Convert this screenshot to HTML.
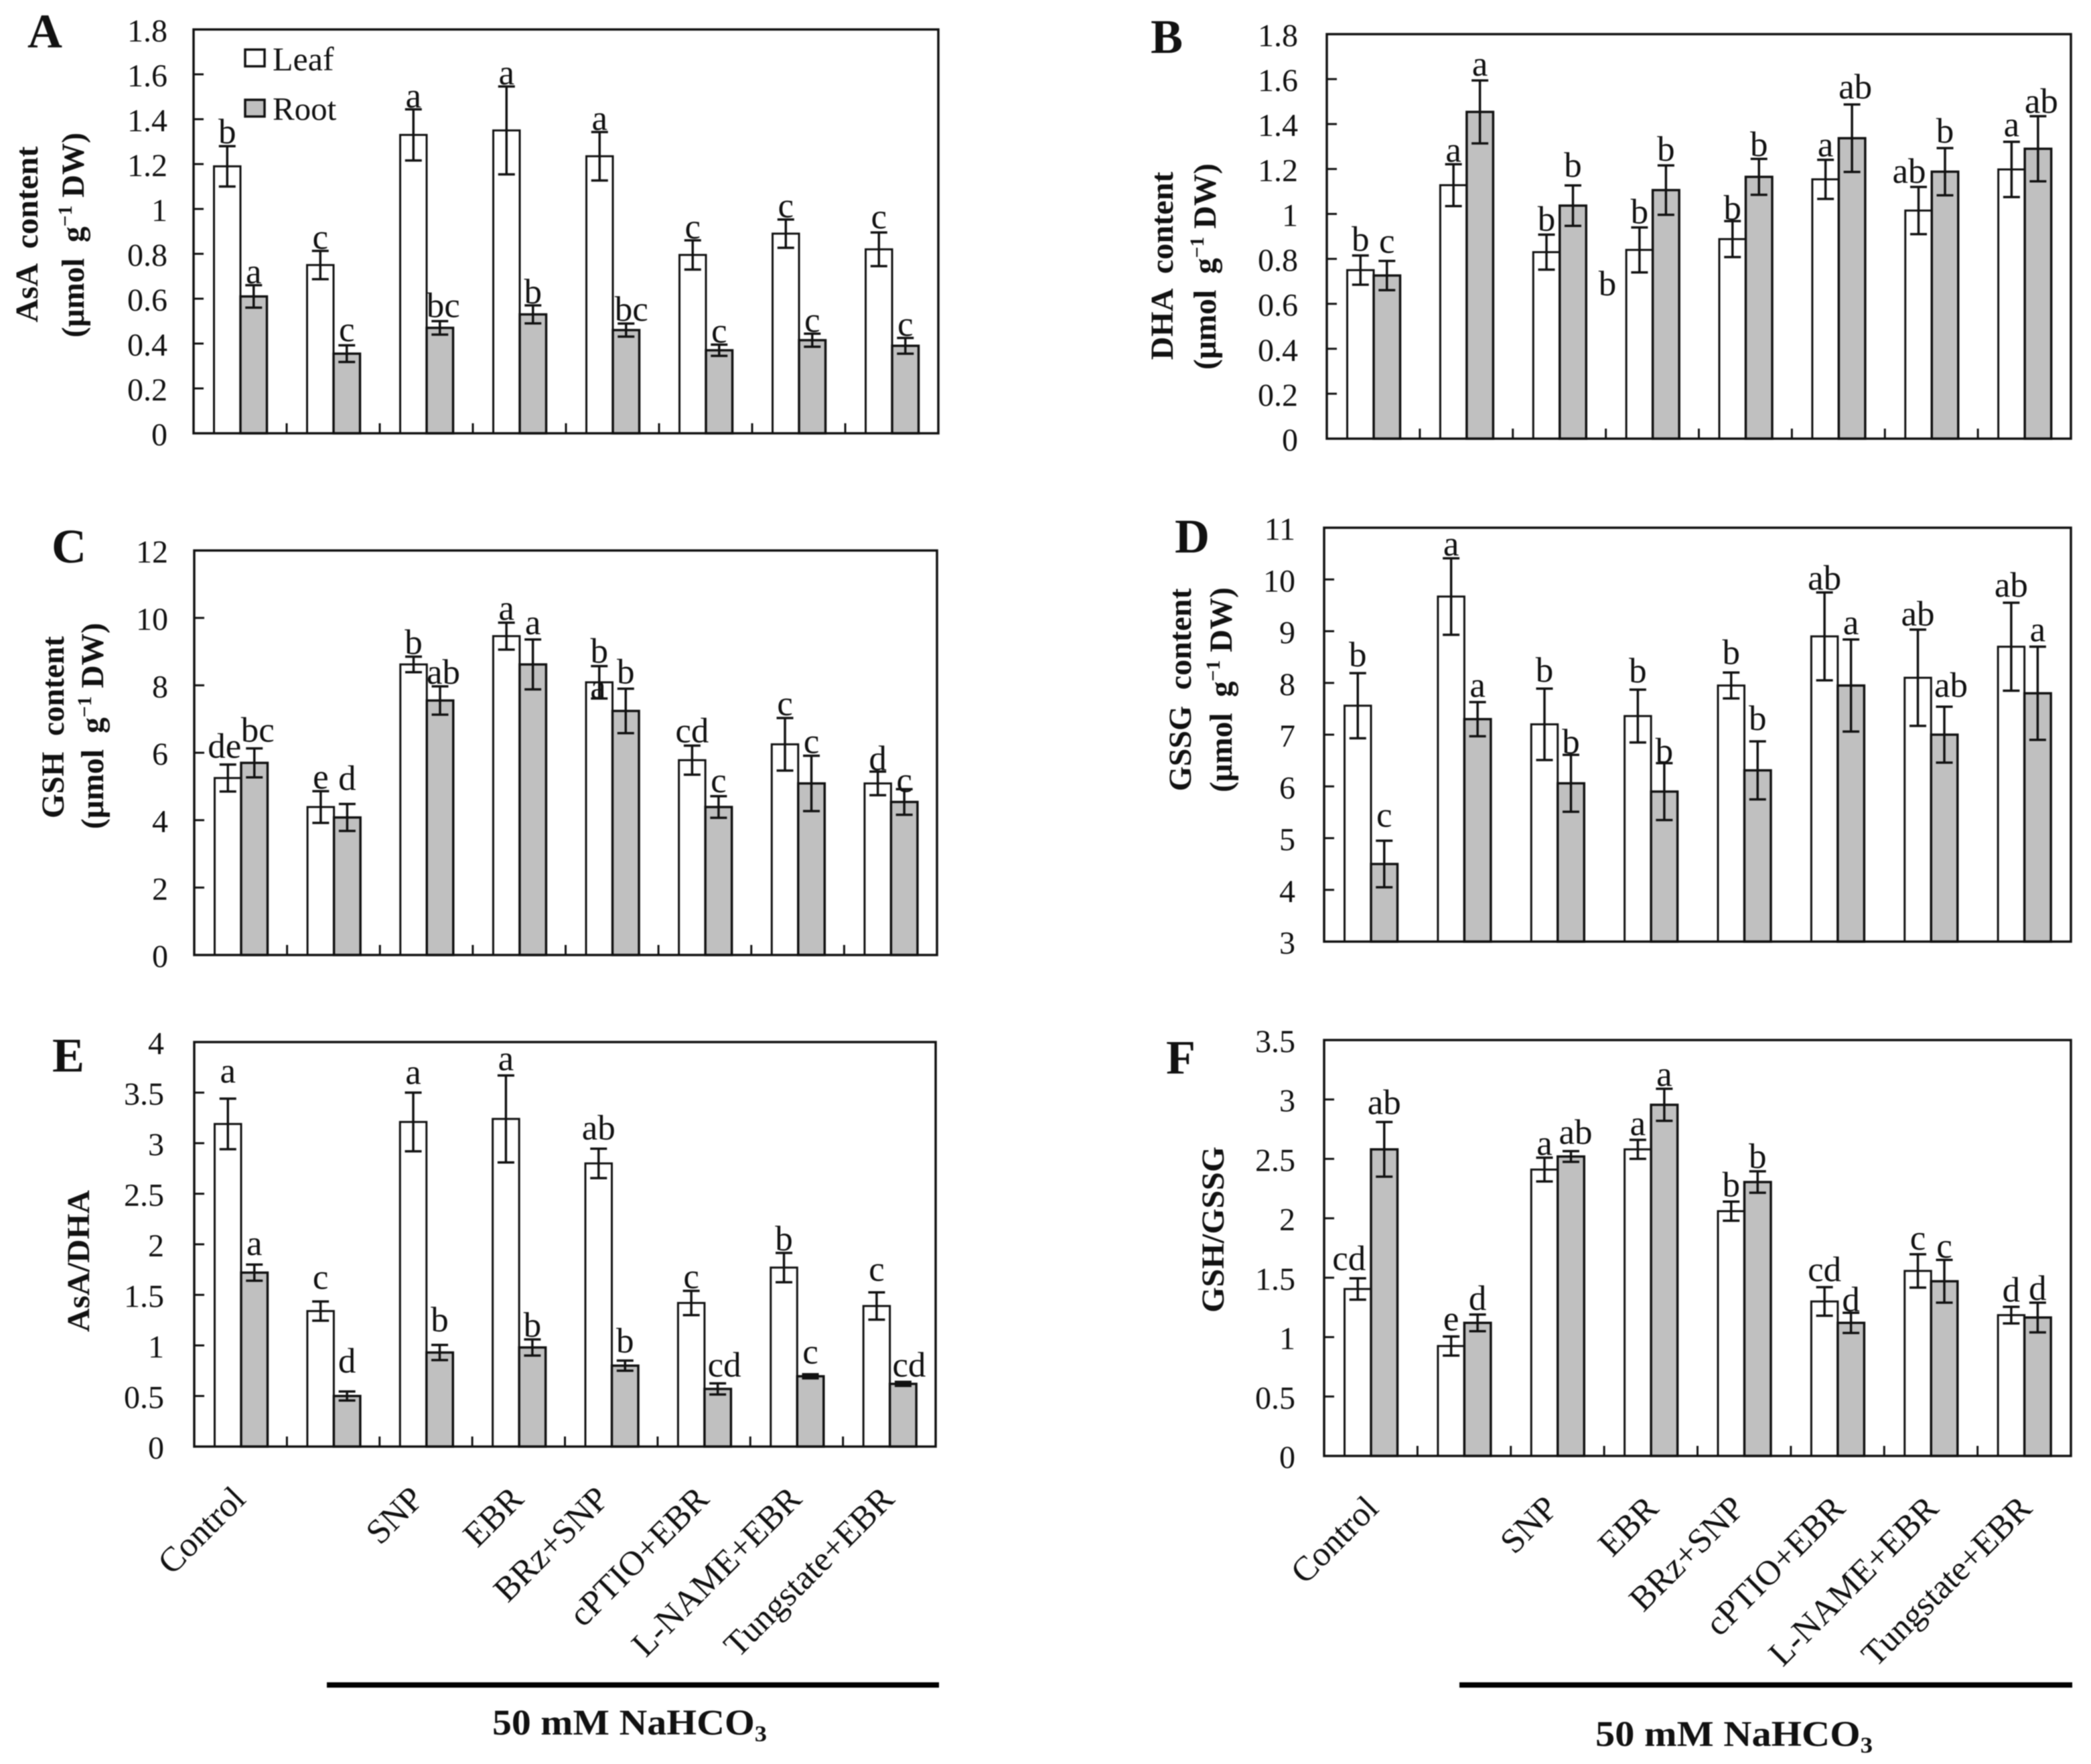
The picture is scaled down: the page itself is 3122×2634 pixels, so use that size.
<!DOCTYPE html>
<html lang="en">
<head>
<meta charset="utf-8">
<title>AsA, DHA, GSH and GSSG content in leaf and root</title>
<style>
html,body{margin:0;padding:0;background:#fff;}
svg{display:block;font-family:"Liberation Serif",serif;filter:blur(0.8px);}
text{fill:#111;white-space:pre;}
.title{font-weight:bold;font-size:48px;}
.letter{font-weight:bold;font-size:72px;}
</style>
</head>
<body>
<svg id="figure" xmlns="http://www.w3.org/2000/svg" width="3122" height="2634" viewBox="0 0 3122 2634">
  <rect x="0" y="0" width="3122" height="2634" fill="#fff"/>

  <text class="letter" x="41" y="71">A</text>
  <text class="letter" x="1718" y="79">B</text>
  <text class="letter" x="77" y="840">C</text>
  <text class="letter" x="1754" y="825">D</text>
  <text class="letter" x="78" y="1600">E</text>
  <text class="letter" x="1741" y="1603">F</text>

  <text class="title" text-anchor="middle" transform="translate(56,350) rotate(-90)" textLength="263" lengthAdjust="spacingAndGlyphs">AsA  content</text>
  <text class="title" text-anchor="middle" transform="translate(125,351) rotate(-90)" textLength="306" lengthAdjust="spacingAndGlyphs">(μmol  g<tspan font-size="30" dy="-18">−1</tspan><tspan dy="18"> DW)</tspan></text>

  <text class="title" text-anchor="middle" transform="translate(1751,397) rotate(-90)" textLength="281" lengthAdjust="spacingAndGlyphs">DHA  content</text>
  <text class="title" text-anchor="middle" transform="translate(1815,398) rotate(-90)" textLength="308" lengthAdjust="spacingAndGlyphs">(μmol  g<tspan font-size="30" dy="-18">−1</tspan><tspan dy="18"> DW)</tspan></text>

  <text class="title" text-anchor="middle" transform="translate(95,1086) rotate(-90)" textLength="272" lengthAdjust="spacingAndGlyphs">GSH  content</text>
  <text class="title" text-anchor="middle" transform="translate(154,1084) rotate(-90)" textLength="308" lengthAdjust="spacingAndGlyphs">(μmol  g<tspan font-size="30" dy="-18">−1</tspan><tspan dy="18"> DW)</tspan></text>

  <text class="title" text-anchor="middle" transform="translate(1778,1030) rotate(-90)" textLength="303" lengthAdjust="spacingAndGlyphs">GSSG  content</text>
  <text class="title" text-anchor="middle" transform="translate(1839,1030) rotate(-90)" textLength="306" lengthAdjust="spacingAndGlyphs">(μmol  g<tspan font-size="30" dy="-18">−1</tspan><tspan dy="18"> DW)</tspan></text>

  <text class="title" text-anchor="middle" transform="translate(133,1883) rotate(-90)" textLength="212" lengthAdjust="spacingAndGlyphs">AsA/DHA</text>
  <text class="title" text-anchor="middle" transform="translate(1827,1836) rotate(-90)" textLength="248" lengthAdjust="spacingAndGlyphs">GSH/GSSG</text>

  <rect x="366" y="74" width="29" height="25" fill="#fff" stroke="#111" stroke-width="3.5"/>
  <text x="407" y="105" font-size="50">Leaf</text>
  <rect x="366" y="149" width="29" height="25" fill="#c0c0c0" stroke="#111" stroke-width="3.5"/>
  <text x="407" y="179" font-size="49">Root</text>

  <text id="stray-b" x="2400" y="441" font-size="53" text-anchor="middle">b</text>
  <text id="stray-c" x="893" y="1043" font-size="53" text-anchor="middle">a</text>

  <rect x="488" y="2512" width="914" height="8" fill="#000"/>
  <text x="735" y="2590" font-size="54" font-weight="bold" textLength="410" lengthAdjust="spacingAndGlyphs">50 mM NaHCO<tspan font-size="34" dy="10">3</tspan></text>
  <rect x="2179" y="2512" width="915" height="8" fill="#000"/>
  <text x="2382" y="2607" font-size="54" font-weight="bold" textLength="414" lengthAdjust="spacingAndGlyphs">50 mM NaHCO<tspan font-size="34" dy="10">3</tspan></text>
</svg>

<script>
// ---- shared categories ----
const categories = ['Control', '', 'SNP', 'EBR', 'BRz+SNP', 'cPTIO+EBR', 'L-NAME+EBR', 'Tungstate+EBR'];

// ---- Panel A: AsA content ----
const ticksA = ['0', '0.2', '0.4', '0.6', '0.8', '1', '1.2', '1.4', '1.6', '1.8'];
const leafA = [1.19, 0.75, 1.33, 1.35, 1.235, 0.795, 0.89, 0.82];
const leafErrA = [0.09, 0.063, 0.114, 0.196, 0.108, 0.065, 0.063, 0.075];
const rootA = [0.61, 0.355, 0.47, 0.53, 0.46, 0.37, 0.415, 0.39];
const rootErrA = [0.05, 0.037, 0.03, 0.04, 0.029, 0.025, 0.029, 0.035];
const lettersLeafA = ['b', 'c', 'a', 'a', 'a', 'c', 'c', 'c'];
const lettersRootA = ['a', 'c', 'bc', 'b', 'bc', 'c', 'c', 'c'];

// ---- Panel B: DHA content ----
const ticksB = ['0', '0.2', '0.4', '0.6', '0.8', '1', '1.2', '1.4', '1.6', '1.8'];
const leafB = [0.75, 1.128, 0.83, 0.84, 0.888, 1.154, 1.015, 1.198];
const leafErrB = [0.065, 0.093, 0.078, 0.1, 0.08, 0.087, 0.105, 0.123];
const rootB = [0.726, 1.454, 1.037, 1.106, 1.165, 1.337, 1.188, 1.29];
const rootErrB = [0.065, 0.14, 0.09, 0.11, 0.08, 0.15, 0.105, 0.145];
const lettersLeafB = ['b', 'a', 'b', 'b', 'b', 'a', 'ab', 'a'];
const lettersRootB = ['c', 'a', 'b', 'b', 'b', 'ab', 'b', 'ab'];

// ---- Panel C: GSH content ----
const ticksC = ['0', '2', '4', '6', '8', '10', '12'];
const leafC = [5.25, 4.39, 8.62, 9.46, 8.09, 5.78, 6.25, 5.09];
const leafErrC = [0.4, 0.47, 0.23, 0.4, 0.48, 0.43, 0.78, 0.35];
const rootC = [5.7, 4.08, 7.55, 8.62, 7.24, 4.39, 5.09, 4.54];
const rootErrC = [0.43, 0.4, 0.42, 0.74, 0.66, 0.32, 0.82, 0.38];
const lettersLeafC = ['de', 'e', 'b', 'a', 'b', 'cd', 'c', 'd'];
const lettersRootC = ['bc', 'd', 'ab', 'a', 'b', 'c', 'c', 'c'];

// ---- Panel D: GSSG content ----
const ticksD = ['3', '4', '5', '6', '7', '8', '9', '10', '11'];
const leafD = [7.56, 9.67, 7.2, 7.36, 7.95, 8.9, 8.1, 8.7];
const leafErrD = [0.63, 0.74, 0.69, 0.51, 0.25, 0.85, 0.93, 0.85];
const rootD = [4.5, 7.3, 6.06, 5.9, 6.31, 7.95, 7.0, 7.8];
const rootErrD = [0.45, 0.33, 0.55, 0.55, 0.56, 0.89, 0.54, 0.9];
const lettersLeafD = ['b', 'a', 'b', 'b', 'b', 'ab', 'ab', 'ab'];
const lettersRootD = ['c', 'a', 'b', 'b', 'b', 'a', 'ab', 'a'];

// ---- Panel E: AsA/DHA ----
const ticksE = ['0', '0.5', '1', '1.5', '2', '2.5', '3', '3.5', '4'];
const leafE = [3.19, 1.34, 3.21, 3.24, 2.8, 1.42, 1.77, 1.39];
const leafErrE = [0.25, 0.095, 0.29, 0.43, 0.145, 0.12, 0.145, 0.135];
const rootE = [1.72, 0.5, 0.93, 0.98, 0.8, 0.57, 0.695, 0.62];
const rootErrE = [0.08, 0.045, 0.075, 0.08, 0.05, 0.055, 0.02, 0.02];
const lettersLeafE = ['a', 'c', 'a', 'a', 'ab', 'c', 'b', 'c'];
const lettersRootE = ['a', 'd', 'b', 'b', 'b', 'cd', 'c', 'cd'];

// ---- Panel F: GSH/GSSG ----
const ticksF = ['0', '0.5', '1', '1.5', '2', '2.5', '3', '3.5'];
const leafF = [1.405, 0.925, 2.41, 2.58, 2.06, 1.3, 1.557, 1.185];
const leafErrF = [0.09, 0.08, 0.1, 0.08, 0.08, 0.12, 0.14, 0.07];
const rootF = [2.58, 1.12, 2.52, 2.955, 2.305, 1.12, 1.47, 1.165];
const rootErrF = [0.23, 0.07, 0.045, 0.135, 0.09, 0.085, 0.18, 0.125];
const lettersLeafF = ['cd', 'e', 'a', 'a', 'b', 'cd', 'c', 'd'];
const lettersRootF = ['ab', 'd', 'ab', 'a', 'b', 'd', 'c', 'd'];

const NS = 'http://www.w3.org/2000/svg';
const fig = document.getElementById('figure');

function shape(tag, parent, attrs, content) {
  const el = document.createElementNS(NS, tag);
  for (const k in attrs) el.setAttribute(k, attrs[k]);
  if (content !== undefined) el.textContent = content;
  parent.appendChild(el);
  return el;
}

function drawPanel(p) {
  const g = document.createElementNS(NS, 'g');
  
  
  fig.appendChild(g);

  const lo = parseFloat(p.ticks[0]);
  const hi = parseFloat(p.ticks[p.ticks.length - 1]);
  const yScale = v => p.bottom - (v - lo) / (hi - lo) * (p.bottom - p.top);
  const groupW = (p.right - p.left) / p.categories.length;
  const barX = (i, s) => p.left + groupW * i + 30.5 + s * 39.5;
  const barW = 39.5;

  // bars
  p.leaf.forEach((v, i) => {
    const r = shape('rect', g, { x: barX(i, 0), y: yScale(v), width: barW, height: p.bottom - yScale(v), fill: '#fff', stroke: '#111', 'stroke-width': 3 });
    
    
  });
  p.root.forEach((v, i) => {
    const r = shape('rect', g, { x: barX(i, 1), y: yScale(v), width: barW, height: p.bottom - yScale(v), fill: '#c0c0c0', stroke: '#111', 'stroke-width': 3.5 });
    
    
  });

  // frame and ticks
  const frame = shape('rect', g, { x: p.left, y: p.top, width: p.right - p.left, height: p.bottom - p.top, fill: 'none', stroke: '#111', 'stroke-width': 3.5 });
  
  

  p.ticks.forEach(t => {
    const v = parseFloat(t);
    const tick = shape('line', g, { x1: p.left, x2: p.left + 15, y1: yScale(v), y2: yScale(v), stroke: '#111', 'stroke-width': 3 });
    
    
    const label = shape('text', g, { x: p.left - p.tickGap, y: yScale(v) + 18, 'text-anchor': 'end', 'font-size': 48 }, t);
    
    
  });

  if (p.xTicks) {
    for (let i = 1; i < p.categories.length; i++) {
      const x = p.left + groupW * i;
      const tick = shape('line', g, { x1: x, x2: x, y1: p.bottom, y2: p.bottom - 15, stroke: '#111', 'stroke-width': 3 });
      
      
    }
  }

  // error bars
  const errorBar = (x, v, e, name) => {
    const eg = document.createElementNS(NS, 'g');
    
    
    eg.setAttribute('stroke', '#111');
    eg.setAttribute('stroke-width', '3.5');
    g.appendChild(eg);
    shape('line', eg, { x1: x, x2: x, y1: yScale(v + e), y2: yScale(v - e) });
    shape('line', eg, { x1: x - 12.5, x2: x + 12.5, y1: yScale(v + e), y2: yScale(v + e) });
    shape('line', eg, { x1: x - 12.5, x2: x + 12.5, y1: yScale(v - e), y2: yScale(v - e) });
  };
  p.leaf.forEach((v, i) => errorBar(barX(i, 0) + barW / 2, v, p.leafErr[i], 'error-bar-leaf'));
  p.root.forEach((v, i) => errorBar(barX(i, 1) + barW / 2, v, p.rootErr[i], 'error-bar-root'));

  // significance letters: lift above the error cap in px, with optional sideways shift
  const letter = (s, i, text, v, e, series) => {
    const lift = (p.lift[series] || [])[i] ?? 5;
    const shift = (p.shift[series] || {})[i] || 0;
    const t = shape('text', g, { x: barX(i, s) + barW / 2 + shift, y: yScale(v + e) - lift, 'text-anchor': 'middle', 'font-size': 53 }, text);
    
    
  };
  p.lettersLeaf.forEach((t, i) => letter(0, i, t, p.leaf[i], p.leafErr[i], 'leaf'));
  p.lettersRoot.forEach((t, i) => letter(1, i, t, p.root[i], p.rootErr[i], 'root'));

  // category labels
  if (p.labelY) {
    p.categories.forEach((c, i) => {
      if (!c) return;
      const off = c.endsWith('P') ? p.labelShift - 11 : p.labelShift;
      const x = p.left + groupW * (i + 0.5) + off;
      const t = shape('text', g, { 'text-anchor': 'end', 'font-size': 52, transform: 'translate(' + x + ',' + p.labelY + ') rotate(-45)' }, c);
      
      
    });
  }
}

drawPanel({ id: 'a', left: 289, right: 1401, top: 44, bottom: 647, tickGap: 39, xTicks: true,
  ticks: ticksA, categories, leaf: leafA, leafErr: leafErrA, root: rootA, rootErr: rootErrA,
  lettersLeaf: lettersLeafA, lettersRoot: lettersRootA,
  lift: { leaf: [4, 3, 3, 3, 3, 3, 3, 6], root: [3, 6, 6, 3, 4, 3, 3, 3] }, shift: { root: { 2: 5, 4: 8 } } });

drawPanel({ id: 'b', left: 1981, right: 3092, top: 51, bottom: 655, tickGap: 43, xTicks: true,
  ticks: ticksB, categories, leaf: leafB, leafErr: leafErrB, root: rootB, rootErr: rootErrB,
  lettersLeaf: lettersLeafB, lettersRoot: lettersRootB,
  lift: { leaf: [7, 4, 6, 6, 2, 5, 6, 8], root: [12, 7, 13, 7, 4, 9, 8, 5] }, shift: { root: { 5: 5, 7: 5 }, leaf: { 6: -14 } } });

drawPanel({ id: 'c', left: 290, right: 1399, top: 822, bottom: 1426, tickGap: 39, xTicks: true,
  ticks: ticksC, categories, leaf: leafC, leafErr: leafErrC, root: rootC, rootErr: rootErrC,
  lettersLeaf: lettersLeafC, lettersRoot: lettersRootC,
  lift: { leaf: [10, 4, 4, 4, 5, 5, 4, 2], root: [10, 21, 4, 8, 8, 6, 4, -4] }, shift: { leaf: { 0: -5 }, root: { 0: 5, 2: 5 } } });

drawPanel({ id: 'd', left: 1977, right: 3092, top: 788, bottom: 1406, tickGap: 43, xTicks: false,
  ticks: ticksD, categories, leaf: leafD, leafErr: leafErrD, root: rootD, rootErr: rootErrD,
  lettersLeaf: lettersLeafD, lettersRoot: lettersRootD,
  lift: { leaf: [10, 4, 10, 11, 13, 4, 6, 9], root: [21, 8, 2, 1, 17, 8, 15, 8] }, shift: { root: { 6: 10 } } });

drawPanel({ id: 'e', left: 290, right: 1397, top: 1556, bottom: 2160, tickGap: 45, xTicks: true,
  ticks: ticksE, categories, leaf: leafE, leafErr: leafErrE, root: rootE, rootErr: rootErrE,
  lettersLeaf: lettersLeafE, lettersRoot: lettersRootE,
  lift: { leaf: [24, 19, 13, 8, 14, 4, 4, 17], root: [14, 28, 20, 4, 12, 10, 16, 8] }, shift: { root: { 5: 10, 7: 9 } },
  labelShift: 10, labelY: 2241 });

drawPanel({ id: 'f', left: 1977, right: 3092, top: 1553, bottom: 2174, tickGap: 43, xTicks: true,
  ticks: ticksF, categories, leaf: leafF, leafErr: leafErrF, root: rootF, rootErr: rootErrF,
  lettersLeaf: lettersLeafF, lettersRoot: lettersRootF,
  lift: { leaf: [12, 9, 4, 7, 8, 9, 7, 8], root: [12, 7, 11, 4, 5, 2, 3, 4] }, shift: { leaf: { 0: -13 }, root: { 2: 7 } },
  labelShift: 14, labelY: 2255 });

// the two loose letters in the original sit on top of the bars
fig.appendChild(document.getElementById('stray-b'));
fig.appendChild(document.getElementById('stray-c'));
</script>
</body>
</html>
